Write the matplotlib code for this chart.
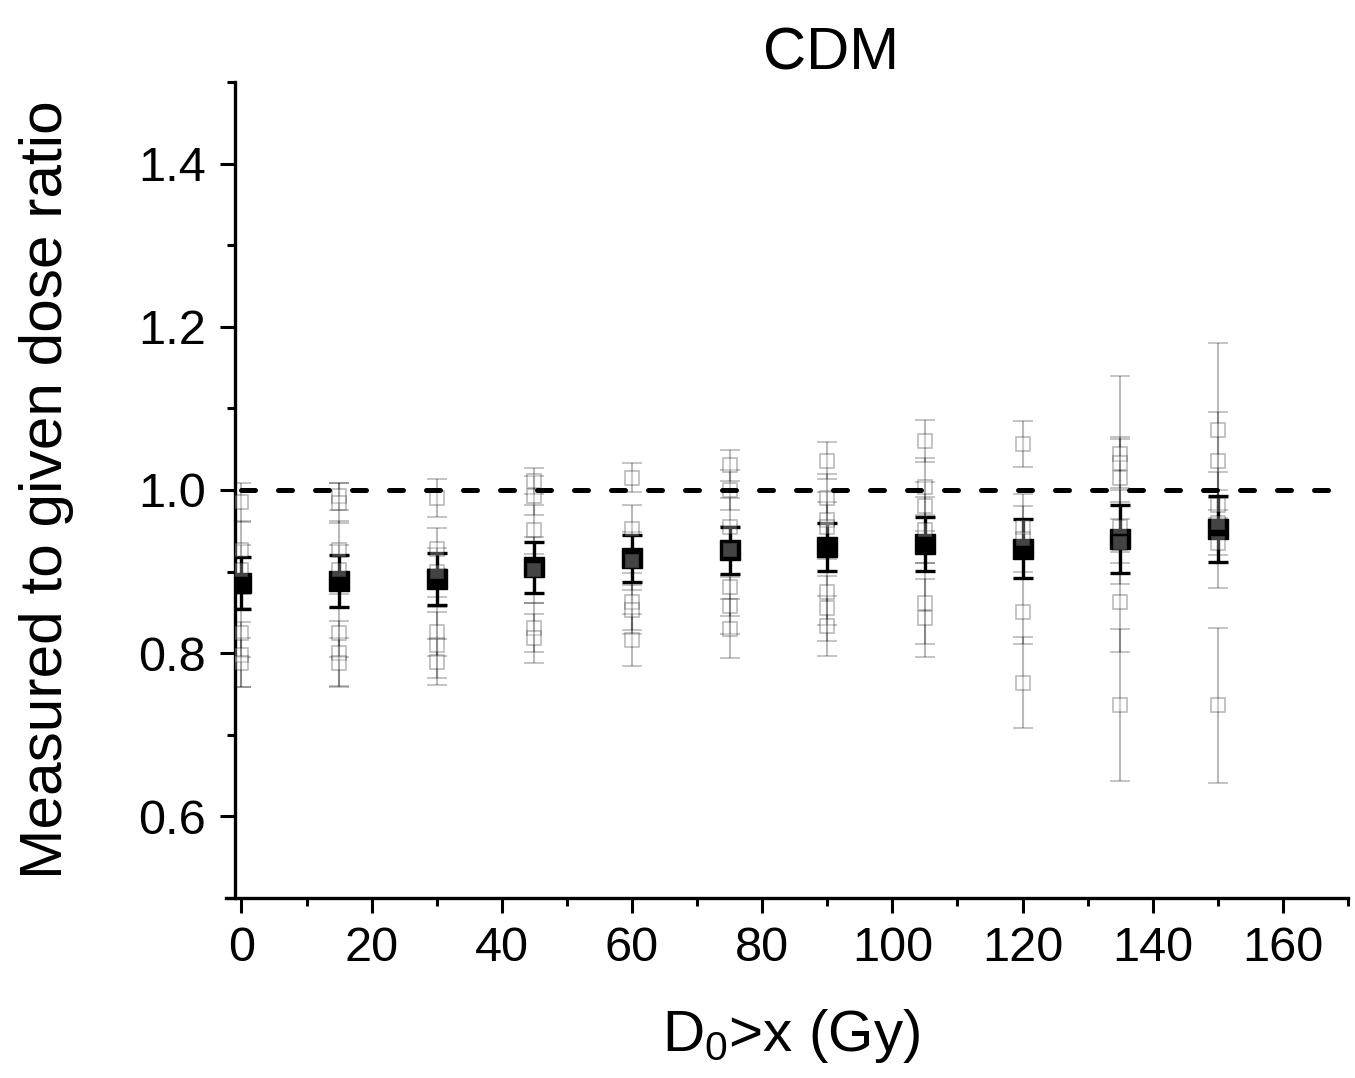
import numpy as np
import matplotlib
matplotlib.use('Agg')
import matplotlib.pyplot as plt
from matplotlib.ticker import MultipleLocator

plt.rcParams['font.family'] = ['Liberation Sans', 'DejaVu Sans']
plt.rcParams['mathtext.default'] = 'regular'

# dose threshold D0 > x (Gy)
doses = [0, 15, 30, 45, 60, 75, 90, 105, 120, 135, 150]

# mean measured/given ratio and its error
mean_ratio = [0.886, 0.888, 0.891, 0.905, 0.916, 0.926, 0.930, 0.934, 0.928, 0.940, 0.952]
mean_err = [0.032, 0.032, 0.032, 0.031, 0.029, 0.029, 0.029, 0.033, 0.036, 0.042, 0.040]

# individual detectors (grey points) for every dose threshold
single_ratio = [
    [0.985, 0.927, 0.902, 0.825, 0.798, 0.788],
    [0.992, 0.984, 0.927, 0.902, 0.825, 0.800, 0.788],
    [0.990, 0.928, 0.899, 0.826, 0.810, 0.789],
    [1.011, 0.993, 0.951, 0.902, 0.831, 0.818],
    [1.015, 0.952, 0.913, 0.863, 0.853, 0.816],
    [1.030, 1.000, 0.955, 0.926, 0.881, 0.858, 0.830],
    [1.036, 0.990, 0.963, 0.955, 0.875, 0.855, 0.833],
    [1.060, 1.004, 0.980, 0.951, 0.861, 0.843],
    [1.056, 0.955, 0.940, 0.851, 0.764],
    [1.044, 1.033, 1.015, 0.955, 0.935, 0.863, 0.736],
    [1.073, 1.035, 0.982, 0.960, 0.935, 0.736],
]
single_err = [
    [0.024, 0.035, 0.030, 0.030, 0.040, 0.030],
    [0.016, 0.025, 0.035, 0.030, 0.030, 0.040, 0.030],
    [0.023, 0.025, 0.030, 0.030, 0.040, 0.028],
    [0.016, 0.024, 0.030, 0.040, 0.030, 0.030],
    [0.018, 0.030, 0.035, 0.035, 0.030, 0.032],
    [0.019, 0.025, 0.035, 0.030, 0.035, 0.035, 0.036],
    [0.023, 0.030, 0.035, 0.030, 0.040, 0.040, 0.037],
    [0.026, 0.035, 0.030, 0.040, 0.050, 0.048],
    [0.028, 0.040, 0.040, 0.040, 0.056],
    [0.096, 0.030, 0.050, 0.045, 0.050, 0.061, 0.093],
    [0.107, 0.060, 0.040, 0.040, 0.055, 0.095],
]
ref_ratio = 1.0
x_max = 170

fig = plt.figure(figsize=(13.55, 10.78), dpi=100)
ax = fig.add_axes([0.1734, 0.167, 0.8214, 0.757])

ax.errorbar(doses, mean_ratio, yerr=mean_err, fmt='s', ms=15, color='k',
            capsize=7.5, elinewidth=2.4, capthick=2.4, zorder=2)

for d, vals, errs in zip(doses, single_ratio, single_err):
    ax.errorbar([d] * len(vals), vals, yerr=errs, fmt='s', ms=9.5, mfc='white',
                mec='k', color='k', alpha=0.27, capsize=7.5, elinewidth=1.5,
                capthick=1.5, mew=1.2, zorder=3)

ax.plot([0, x_max], [ref_ratio, ref_ratio], color='k', linewidth=3.6,
        linestyle=(0, (2.8, 4.6)), dash_capstyle='round', zorder=4)

ax.set_xlim(-1, x_max)
ax.set_ylim(0.5, 1.5)
ax.xaxis.set_major_locator(MultipleLocator(20))
ax.xaxis.set_minor_locator(MultipleLocator(10))
ax.yaxis.set_minor_locator(MultipleLocator(0.1))
ax.set_yticks([0.6, 0.8, 1.0, 1.2, 1.4])

for side in ['top', 'right']:
    ax.spines[side].set_visible(False)
for side in ['left', 'bottom']:
    ax.spines[side].set_linewidth(2.4)
ax.spines['bottom'].set_bounds(-2.4, x_max)

ax.tick_params(which='major', direction='out', length=11, width=2.2, labelsize=35)
ax.tick_params(axis='y', which='major', pad=10)
ax.tick_params(axis='x', which='major', pad=9)
ax.tick_params(which='minor', direction='out', length=6, width=2.2)

ax.set_xlabel('D$_0$>x (Gy)', fontsize=42, labelpad=26)
ax.set_ylabel('Measured to given dose ratio', fontsize=43.5, labelpad=46)
ax.set_title('CDM', fontsize=43, pad=8, x=0.5355)

plt.savefig('out.png', dpi=100)
